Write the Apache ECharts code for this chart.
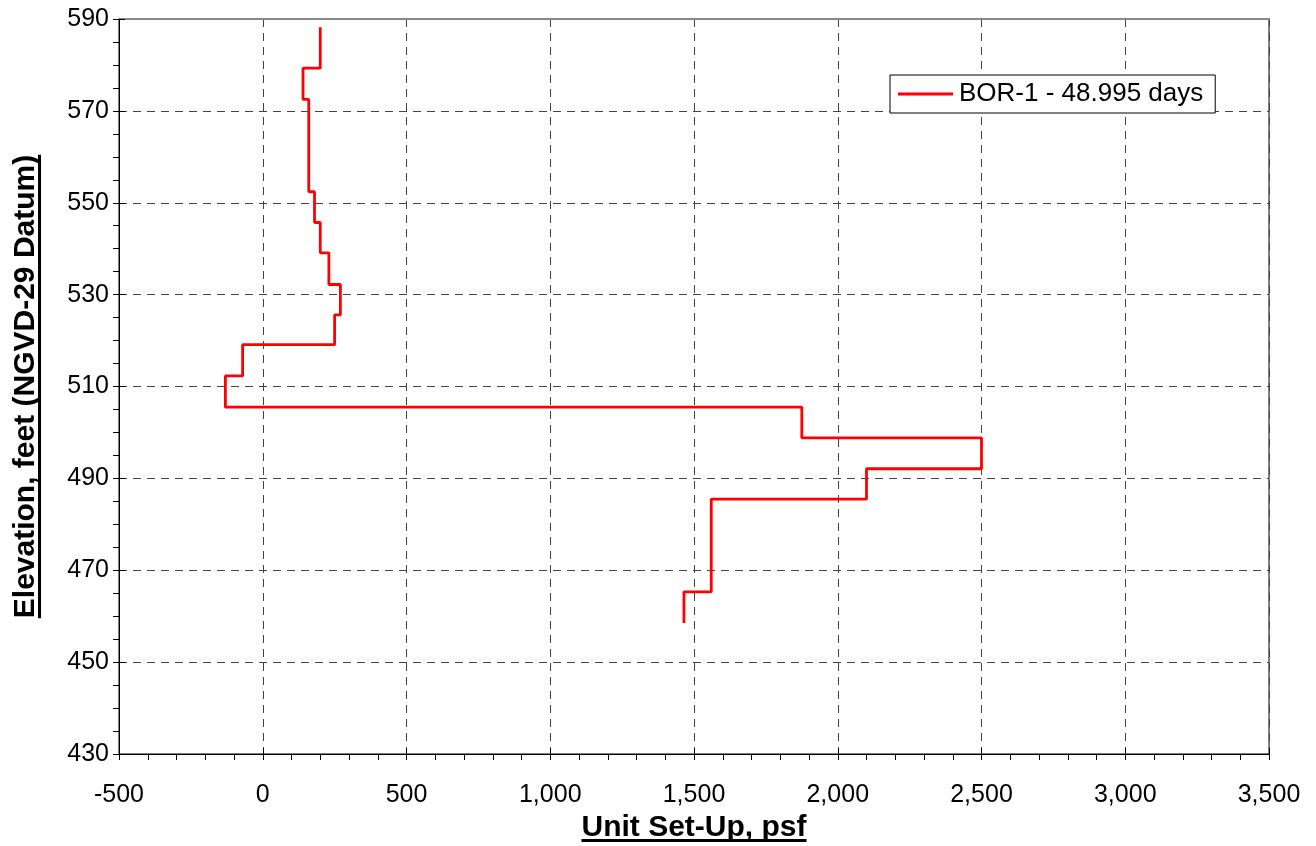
<!DOCTYPE html>
<html>
<head>
<meta charset="utf-8">
<script src="https://cdn.jsdelivr.net/npm/echarts@6/dist/echarts.min.js"></script>
<style>
html,body{margin:0;padding:0;background:#fff;}
#chart{width:1316px;height:846px;}
</style>
</head>
<body>
<div id="chart"></div>
<script>
// Data
const seriesName = 'BOR-1 - 48.995 days';
// layer boundary elevations (ft), top to bottom
const layerElevations = [588.2, 579.3, 572.5, 552.4, 545.7, 539.1, 532.2, 525.6, 519.1, 512.3, 505.5, 498.8, 492.1, 485.5, 465.3, 458.5];
// unit set-up (psf) for each layer between consecutive boundaries
const unitSetUp = [200, 140, 160, 180, 200, 230, 270, 250, -70, -130, 1875, 2500, 2100, 1560, 1465];
const xTicks = { min: -500, max: 3500, interval: 500 };
const yTicks = { min: 430, max: 590, interval: 20 };
const xTitle = 'Unit Set-Up, psf';
const yTitle = 'Elevation, feet (NGVD-29 Datum)';

// build step profile from the arrays
const profile = [];
for (let i = 0; i < unitSetUp.length; i++) {
  profile.push([unitSetUp[i], layerElevations[i]]);
  profile.push([unitSetUp[i], layerElevations[i + 1]]);
}

const FONT = 'Liberation Sans, Arial, sans-serif';
const chart = echarts.init(document.getElementById('chart'), null, { renderer: 'canvas' });

const fmtX = v => v.toLocaleString('en-US');
const grid = { left: 119, right: 47, top: 19, bottom: 92 };

function measure(text, font) {
  const c = document.createElement('canvas').getContext('2d');
  c.font = font;
  return c.measureText(text).width;
}
const titleFont = 'bold 30px ' + FONT;
const xTitleW = measure(xTitle, titleFont);
const yTitleW = measure(yTitle, titleFont);
const gridCx = grid.left + (1316 - grid.left - grid.right) / 2;
const gridCy = grid.top + (846 - grid.top - grid.bottom) / 2;

const splitStyle = { type: [8, 6], color: '#444', width: 1 };

chart.setOption({
  animation: false,
  backgroundColor: '#fff',
  grid: Object.assign({ show: true, borderColor: '#000', borderWidth: 1, backgroundColor: 'transparent', containLabel: false, outerBoundsMode: 'none' }, grid),
  legend: {
    left: 890, top: 75,
    padding: [6, 12, 6, 8],
    borderColor: '#000', borderWidth: 1, borderRadius: 0,
    backgroundColor: '#fff',
    itemWidth: 55, itemHeight: 3, itemGap: 10,
    textStyle: { fontFamily: FONT, fontSize: 26, color: '#000', padding: [0, 0, 0, 1] },
    data: [{ name: seriesName, icon: 'rect' }]
  },
  xAxis: [
    {
      type: 'value', min: xTicks.min, max: xTicks.max, interval: xTicks.interval,
      position: 'bottom',
      name: xTitle, nameLocation: 'middle', nameGap: 57,
      nameTextStyle: { fontFamily: FONT, fontSize: 30, fontWeight: 'bold', color: '#000' },
      axisLine: { show: true, onZero: false, lineStyle: { color: '#000', width: 1 } },
      axisTick: { show: true, inside: false, length: 6, lineStyle: { color: '#000' } },
      minorTick: { show: true, splitNumber: 5, length: 6, lineStyle: { color: '#000' } },
      axisLabel: { fontFamily: FONT, fontSize: 25, color: '#000', margin: 29, formatter: fmtX },
      splitLine: { show: true, lineStyle: splitStyle }
    },
    {
      type: 'value', min: xTicks.min, max: xTicks.max, interval: xTicks.interval,
      position: 'bottom',
      axisLine: { show: false, onZero: false },
      axisTick: { show: true, inside: true, length: 6, lineStyle: { color: '#000' } },
      axisLabel: { show: false }, splitLine: { show: false }
    },
    {
      type: 'value', min: xTicks.min, max: xTicks.max, interval: xTicks.interval,
      position: 'top',
      axisLine: { show: true, onZero: false, lineStyle: { color: '#888', width: 2 } },
      axisTick: { show: false }, axisLabel: { show: false }, splitLine: { show: false }
    }
  ],
  yAxis: [
    {
      type: 'value', min: yTicks.min, max: yTicks.max, interval: yTicks.interval,
      position: 'left',
      name: yTitle, nameLocation: 'middle', nameGap: 78,
      nameTextStyle: { fontFamily: FONT, fontSize: 30, fontWeight: 'bold', color: '#000' },
      axisLine: { show: true, onZero: false, lineStyle: { color: '#000', width: 1 } },
      axisTick: { show: true, inside: false, length: 6, lineStyle: { color: '#000' } },
      minorTick: { show: true, splitNumber: 4, length: 6, lineStyle: { color: '#000' } },
      axisLabel: { fontFamily: FONT, fontSize: 25, color: '#000', margin: 10 },
      splitLine: { show: true, lineStyle: splitStyle }
    },
    {
      type: 'value', min: yTicks.min, max: yTicks.max, interval: yTicks.interval,
      position: 'left',
      axisLine: { show: false, onZero: false },
      axisTick: { show: true, inside: true, length: 6, lineStyle: { color: '#000' } },
      axisLabel: { show: false }, splitLine: { show: false }
    }
  ],
  series: [{
    name: seriesName,
    type: 'line',
    xAxisIndex: 0, yAxisIndex: 0,
    data: profile,
    symbol: 'none',
    color: '#ff0000',
    lineStyle: { color: '#ff0000', width: 2.8 },
    z: 5
  }],
  graphic: [
    { type: 'rect', shape: { x: gridCx - xTitleW / 2, y: 839, width: xTitleW, height: 3 }, style: { fill: '#000' }, z: 10 },
    { type: 'rect', shape: { x: 38, y: gridCy - yTitleW / 2, width: 3, height: yTitleW }, style: { fill: '#000' }, z: 10 }
  ]
});
</script>
</body>
</html>
